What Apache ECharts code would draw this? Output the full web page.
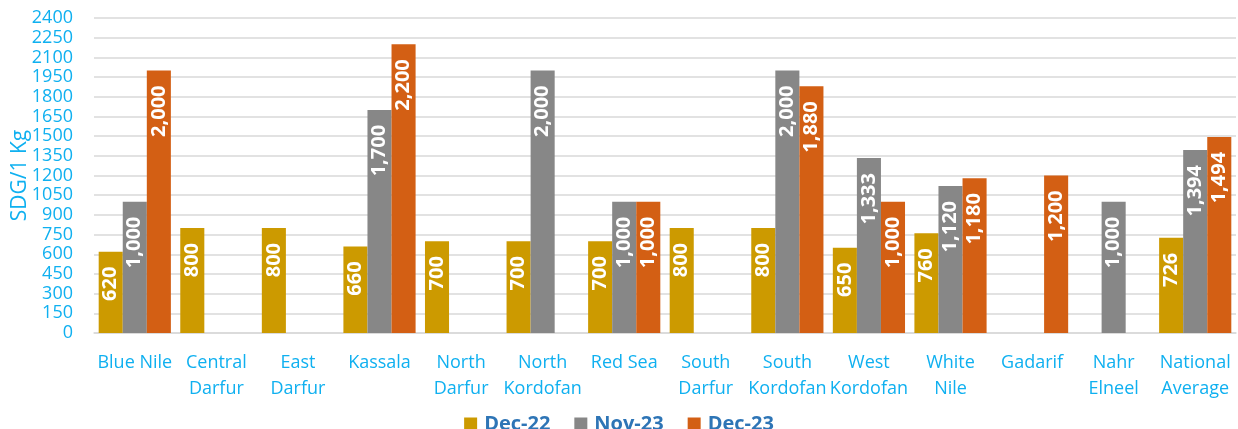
<!DOCTYPE html>
<html>
<head>
<meta charset="utf-8">
<script src="https://cdn.jsdelivr.net/npm/echarts@6/dist/echarts.min.js"></script>
<style>html,body{margin:0;padding:0;background:#fff;}#c{width:1238px;height:429px;}</style>
</head>
<body>
<div id="c"></div>
<script>
const categories = ['Blue Nile', 'Central\nDarfur', 'East\nDarfur', 'Kassala', 'North\nDarfur', 'North\nKordofan', 'Red Sea', 'South\nDarfur', 'South\nKordofan', 'West\nKordofan', 'White\nNile', 'Gadarif', 'Nahr\nElneel', 'National\nAverage'];
const seriesNames = ['Dec-22', 'Nov-23', 'Dec-23'];
const dec22 = [620, 800, 800, 660, 700, 700, 700, 800, 800, 650, 760, null, null, 726];
const nov23 = [1000, null, null, 1700, null, 2000, 1000, null, 2000, 1333, 1120, null, 1000, 1394];
const dec23 = [2000, null, null, 2200, null, null, 1000, null, 1880, 1000, 1180, 1200, null, 1494];
const colors = ['#CC9A00', '#878787', '#D35F14'];
const yMin = 0, yMax = 2400, yInterval = 150;

const chart = echarts.init(document.getElementById('c'), null, {renderer: 'canvas'});
const font = '"Open Sans", "Noto Sans", sans-serif';
function mk(name, data, color) {
  return {
    name: name, type: 'bar', data: data,
    barGap: '0%', barCategoryGap: '11.5%',
    itemStyle: {color: color},
    label: {
      show: true, position: 'insideTop', rotate: 90, align: 'right', verticalAlign: 'middle',
      distance: 15, color: '#fff', fontWeight: 'bold', fontSize: 20, fontFamily: font,
      formatter: p => p.value == null ? '' : Number(p.value).toLocaleString('en-US')
    }
  };
}
chart.setOption({
  animation: false,
  textStyle: {fontFamily: font},
  grid: {left: 94, right: 2, top: 18, bottom: 96, containLabel: false, outerBoundsMode: 'none'},
  legend: {
    data: seriesNames, left: 'center', top: 409,
    itemWidth: 13, itemHeight: 13, itemGap: 24, icon: 'rect',
    textStyle: {color: '#2E75B6', fontWeight: 'bold', fontSize: 20, fontFamily: font, padding: [0,0,0,2]}
  },
  xAxis: {
    type: 'category', data: categories,
    axisLine: {lineStyle: {color: '#d9d9d9', width: 1.5}},
    axisTick: {show: false},
    axisLabel: {interval: 0, color: '#0FB0F0', fontSize: 18, lineHeight: 26, margin: 17, fontFamily: font}
  },
  yAxis: {
    type: 'value', min: yMin, max: yMax, interval: yInterval,
    name: 'SDG/1 Kg', nameLocation: 'middle', nameGap: 63, nameRotate: 90, nameMoveOverlap: false,
    nameTextStyle: {color: '#0FB0F0', fontSize: 21, fontFamily: font},
    axisLine: {show: false}, axisTick: {show: false},
    axisLabel: {color: '#0FB0F0', fontSize: 18, margin: 21, fontFamily: font, formatter: v => String(v)},
    splitLine: {lineStyle: {color: '#d9d9d9', width: 1.5}}
  },
  series: [mk(seriesNames[0], dec22, colors[0]), mk(seriesNames[1], nov23, colors[1]), mk(seriesNames[2], dec23, colors[2])]
});
</script>
</body>
</html>
